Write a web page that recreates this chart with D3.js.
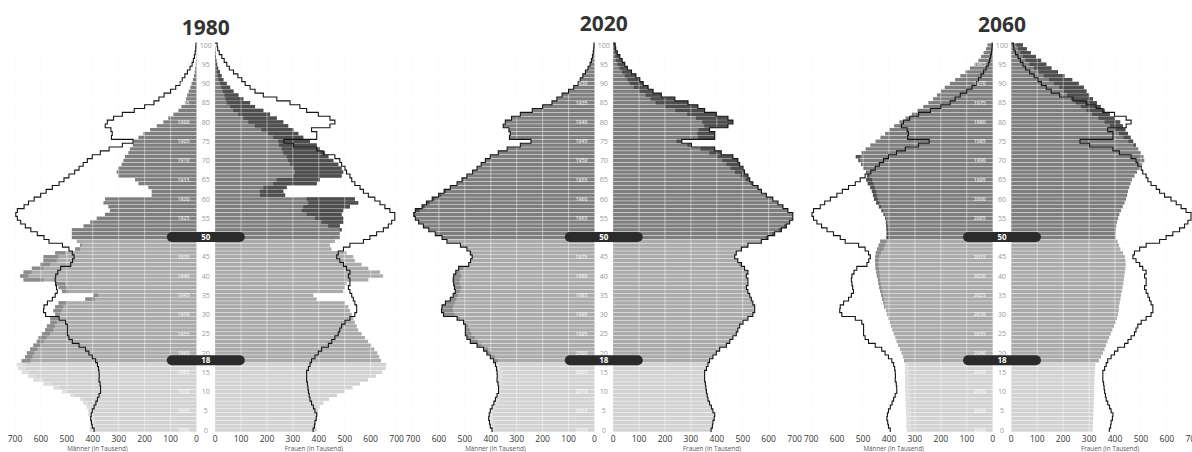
<!DOCTYPE html>
<html><head><meta charset="utf-8">
<script src="https://cdn.jsdelivr.net/npm/d3@7"></script>
<style>html,body{margin:0;padding:0;background:#fff;}svg{display:block;font-family:"Open Sans","Noto Sans",sans-serif;}</style>
</head><body>
<svg id="c" width="1192" height="452"></svg>
<script>
// ages 0..100
const ages = d3.range(0, 101);
const panelYears = ["1980", "2020", "2060"];
const tickValues = [700, 600, 500, 400, 300, 200, 100, 0];
const markerAges = [50, 18];

const men1980 = [412,410,410,410,417,417,423,436,449,487,519,552,590,629,648,674,687,693,674,661,
 654,642,629,616,609,596,584,577,564,564,545,552,545,532,429,397,519,532,545,667,
 680,667,635,603,590,590,545,468,449,462,481,481,481,436,410,385,353,334,340,359,
 353,173,173,186,224,237,302,308,302,289,282,276,263,257,246,244,224,205,179,153,
 128,109,89,70,58,45,40,36,30,24,19,14,10,7,5,3,2,1,1,0,0];
const women1980 = [392,390,390,392,396,398,404,418,440,470,500,530,559,590,620,645,658,660,640,633,
 626,614,602,590,578,565,552,546,539,533,527,520,514,501,392,379,494,501,507,591,
 648,636,591,565,539,533,507,449,443,462,481,481,488,481,494,494,488,494,520,552,
 539,270,263,276,392,404,488,494,488,475,456,437,424,404,392,366,340,321,302,282,
 263,238,212,186,154,135,109,90,71,58,45,32,25,19,12,8,5,3,2,1,0];
const men2020 = [395,402,405,408,406,402,395,388,382,376,370,370,372,376,375,376,378,382,389,402,
 415,428,453,479,492,498,498,498,505,530,582,590,588,575,556,545,537,540,543,545,
 543,535,524,485,478,472,479,492,517,569,588,614,639,660,678,691,697,691,665,648,
 626,601,580,556,530,511,492,470,453,437,421,402,371,337,286,245,328,325,330,352,
 344,320,286,240,200,164,145,125,100,80,64,55,45,35,25,17,12,8,5,3,2];
const women2020 = [378,383,385,390,392,385,379,372,366,363,360,358,356,353,353,353,360,366,372,385,
 398,411,437,450,462,475,481,488,501,520,539,546,546,539,533,527,520,514,520,520,
 514,520,507,495,481,469,475,495,520,572,597,623,649,668,681,693,693,674,655,636,
 616,591,572,559,539,527,520,507,501,488,481,462,417,392,302,265,392,392,372,443,
 462,443,398,353,327,289,238,186,154,135,116,103,88,71,55,45,35,26,16,10,8];
const men2060 = [331,332,332,333,334,334,335,335,336,336,337,337,337,338,338,339,338,338,341,346,
 352,358,365,371,376,382,388,393,397,403,408,412,418,422,427,430,434,438,441,443,
 447,449,452,453,454,453,451,446,440,434,410,409,410,411,412,415,421,429,439,449,
 458,462,466,472,482,488,485,488,498,508,518,528,505,490,472,452,433,415,398,380,
 360,336,312,290,268,248,230,215,200,185,165,145,125,105,88,70,55,45,35,26,20];
const women2060 = [314,314,315,316,316,317,317,318,318,319,319,320,320,321,321,322,322,324,338,346,
 353,359,365,371,377,383,389,395,401,406,410,413,415,418,421,423,426,429,432,434,
 436,438,440,441,440,438,431,421,415,410,402,402,403,405,408,412,417,423,430,437,
 443,447,450,455,460,465,475,485,495,505,513,510,500,490,480,470,460,450,440,430,
 420,400,380,360,345,330,315,300,290,280,260,235,205,180,155,135,115,95,75,60,45];

const data = {
  "1980": {men: men1980, women: women1980},
  "2020": {men: men2020, women: women2020},
  "2060": {men: men2060, women: women2060}
};
const outlineMen = men2020, outlineWomen = women2020;

const svg = d3.select("#c");
const xL0s = [196.5, 594.5, 992.7];
const gapW = 18.6;
const titleY = [35, 31, 32];
const xs = d3.scaleLinear().domain([0, 700]).range([0, 181.5]);
const ys = d3.scaleLinear().domain([0, 100]).range([430, 45]);
const step = 3.85;
const bh = step - 0.5;

function baseColor(a){ return a < 18 ? "#d2d2d2" : a < 50 ? "#aaaaaa" : "#7e7e7e"; }
function surplusColor(a){ return a < 18 ? "#dedede" : a < 50 ? "#8b8b8b" : "#4e4e4e"; }

panelYears.forEach((yr, i) => {
  const xL0 = xL0s[i], xR0 = xL0 + gapW, cx = (xL0 + xR0) / 2;
  const g = svg.append("g");
  const men = data[yr].men, women = data[yr].women;
  const XL = v => xL0 - xs(v), XR = v => xR0 + xs(v);

  // faint background grid
  d3.range(100, 701, 100).forEach(v => {
    [XL(v), XR(v)].forEach(x => {
      g.append("line").attr("x1", x).attr("x2", x).attr("y1", 44).attr("y2", 432)
        .attr("stroke", "#ececec").attr("stroke-width", 0.8).attr("stroke-dasharray", "1,2");
    });
  });

  // bars
  ages.forEach(a => {
    const m = men[a], w = women[a], y = ys(a) - bh / 2;
    g.append("rect").attr("x", XL(m)).attr("y", y).attr("width", xs(m)).attr("height", bh).attr("fill", baseColor(a));
    g.append("rect").attr("x", xR0).attr("y", y).attr("width", xs(w)).attr("height", bh).attr("fill", baseColor(a));
    if (m > w) g.append("rect").attr("x", XL(m)).attr("y", y).attr("width", xs(m) - xs(w)).attr("height", bh).attr("fill", surplusColor(a));
    if (w > m) g.append("rect").attr("x", XR(m)).attr("y", y).attr("width", xs(w) - xs(m)).attr("height", bh).attr("fill", surplusColor(a));
  });

  // white grid over bars
  d3.range(100, 701, 100).forEach(v => {
    [XL(v), XR(v)].forEach(x => {
      g.append("line").attr("x1", x).attr("x2", x).attr("y1", 44).attr("y2", 432)
        .attr("stroke", "#fff").attr("stroke-opacity", 0.45).attr("stroke-width", 1);
    });
  });

  // outline (2020 profile)
  function stepPath(vals, X) {
    let d = `M${X(vals[0])},${ys(0) + step / 2}`;
    ages.forEach(a => {
      d += `V${ys(a) - step / 2}`;
      if (a < 100) d += `H${X(vals[a + 1])}`;
    });
    d += `H${X(0)}`;
    return d;
  }
  g.append("path").attr("d", stepPath(outlineMen, XL)).attr("fill", "none").attr("stroke", "#151515").attr("stroke-width", 1.1);
  g.append("path").attr("d", stepPath(outlineWomen, XR)).attr("fill", "none").attr("stroke", "#151515").attr("stroke-width", 1.1);

  // birth year labels
  d3.range(0, 101, 5).forEach(a => {
    g.append("text").attr("x", xL0 - 13).attr("y", ys(a) + 1.8).attr("text-anchor", "middle")
      .attr("font-size", 5.2).attr("font-weight", 600).attr("fill", "#fff").attr("fill-opacity", 0.85)
      .text(+yr - a);
  });
  // age labels
  d3.range(0, 101, 5).forEach(a => {
    g.append("text").attr("x", cx).attr("y", ys(a) + 2.5).attr("text-anchor", "middle")
      .attr("font-size", 7.2).attr("fill", "#9a9a9a").text(a);
  });

  // markers
  markerAges.forEach(a => {
    g.append("rect").attr("x", cx - 39).attr("y", ys(a) - 5.5).attr("width", 78).attr("height", 10)
      .attr("rx", 5).attr("fill", "#2b2b2b");
    g.append("text").attr("x", cx).attr("y", ys(a) + 2.6).attr("text-anchor", "middle")
      .attr("font-size", 8).attr("font-weight", 700).attr("fill", "#fff").text(a);
  });

  // ticks
  tickValues.forEach(v => {
    g.append("text").attr("x", XL(v)).attr("y", 442).attr("text-anchor", "middle")
      .attr("font-size", 8.5).attr("fill", "#333").text(v);
    g.append("text").attr("x", XR(v)).attr("y", 442).attr("text-anchor", "middle")
      .attr("font-size", 8.5).attr("fill", "#333").text(v);
  });
  g.append("text").attr("x", XL(382)).attr("y", 451).attr("text-anchor", "middle")
    .attr("font-size", 6.3).attr("fill", "#555").text("Männer (in Tausend)");
  g.append("text").attr("x", XR(381)).attr("y", 451).attr("text-anchor", "middle")
    .attr("font-size", 6.3).attr("fill", "#555").text("Frauen (in Tausend)");

  // title
  g.append("text").attr("x", cx).attr("y", titleY[i]).attr("text-anchor", "middle")
    .attr("font-size", 21).attr("font-weight", 700).attr("fill", "#333").text(yr);
});
</script>
</body></html>
